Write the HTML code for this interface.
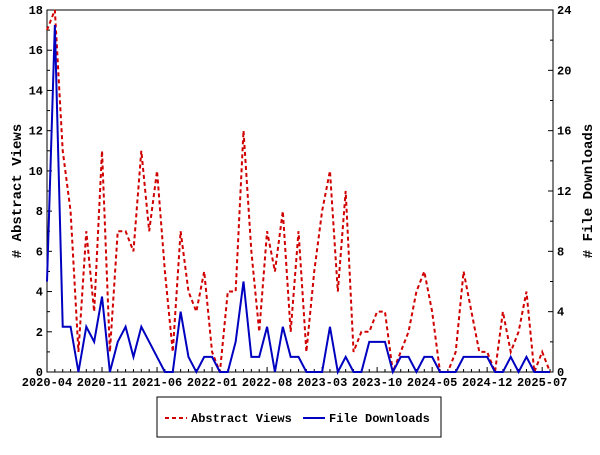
<!DOCTYPE html>
<html><head><meta charset="utf-8"><style>
body{margin:0;background:#fff}
svg text{font-family:"Liberation Mono",monospace;font-size:12px;font-weight:bold;fill:#000}
</style></head><body>
<svg id="chart" width="600" height="450" xmlns="http://www.w3.org/2000/svg">
<rect x="0" y="0" width="600" height="450" fill="#fff"/>
<g id="axes"></g>
<g id="series"></g>
<g>
<rect x="157" y="397" width="284" height="40" fill="#fff" stroke="#000" stroke-width="1"/>
<line x1="165" y1="418" x2="187" y2="418" stroke="#d00000" stroke-width="2" stroke-dasharray="4,3"/>
<text x="191" y="422">Abstract Views</text>
<line x1="303" y1="418" x2="325" y2="418" stroke="#0000c0" stroke-width="2"/>
<text x="329" y="422">File Downloads</text>
</g>
</svg>
<script>
const tickLabels=["2020-04","2020-11","2021-06","2022-01","2022-08","2023-03","2023-10","2024-05","2024-12","2025-07"];
const views=[17,18,11,8,1,7,3,11,1,7,7,6,11,7,10,5,1,7,4,3,5,1,0,4,4,12,6,2,7,5,8,2,7,1,5,8,10,4,9,1,2,2,3,3,0,1,2,4,5,3,0,0,1,5,3,1,1,0,3,1,2,4,0,1,0];
const downloads=[6,23,3,3,0,3,2,5,0,2,3,1,3,2,1,0,0,4,1,0,1,1,0,0,2,6,1,1,3,0,3,1,1,0,0,0,3,0,1,0,0,2,2,2,0,1,1,0,1,1,0,0,0,1,1,1,1,0,0,1,0,1,0,0,0];
const L=47,R=553,T=10,B=372,step=7.86;
const xs=i=>L+i*step;
const yl=v=>B-v*(B-T)/18;
const yr=v=>B-v*(B-T)/24;
const NS="http://www.w3.org/2000/svg";
function mk(tag,attrs,parent){const e=document.createElementNS(NS,tag);for(const k in attrs)e.setAttribute(k,attrs[k]);parent.appendChild(e);return e;}
const ax=document.getElementById('axes');
const frame=mk('rect',{x:L,y:T,width:R-L,height:B-T,fill:'none',stroke:'#000','stroke-width':1},ax);


for(let v=0;v<=18;v+=1){const y=yl(v);const len=v%2==0?5:3;
 mk('line',{x1:L,y1:y,x2:L+len,y2:y,stroke:'#000'},ax);
 if(v%2==0){const t=mk('text',{x:L-4,y:y+4,'text-anchor':'end'},ax);t.textContent=v;
 
 }}
for(let v=0;v<=24;v+=2){const y=yr(v);const len=v%4==0?5:3;
 mk('line',{x1:R,y1:y,x2:R-len,y2:y,stroke:'#000'},ax);
 if(v%4==0){const t=mk('text',{x:R+4,y:y+4,'text-anchor':'start'},ax);t.textContent=v;
 
 }}
for(let i=0;i<views.length;i++){const x=xs(i);const major=i%7==0;
 mk('line',{x1:x,y1:B,x2:x,y2:B-(major?5:3),stroke:'#000'},ax);
 if(major&&tickLabels[i/7]){const t=mk('text',{x:x,y:B+14,'text-anchor':'middle'},ax);t.textContent=tickLabels[i/7];
 
 }}
const lt=mk('text',{x:0,y:0,transform:'translate(21,191) rotate(-90)','text-anchor':'middle',style:'font-size:14px'},ax);lt.textContent='# Abstract Views';


const rt=mk('text',{x:0,y:0,transform:'translate(592,191) rotate(-90)','text-anchor':'middle',style:'font-size:14px'},ax);rt.textContent='# File Downloads';


const sg=document.getElementById('series');
const pv=mk('polyline',{points:views.map((v,i)=>xs(i)+','+yl(v)).join(' '),fill:'none',stroke:'#d00000','stroke-width':2,'stroke-dasharray':'4,3'},sg);


const pd=mk('polyline',{points:downloads.map((v,i)=>xs(i)+','+yr(v)).join(' '),fill:'none',stroke:'#0000c0','stroke-width':2},sg);


</script>
</body></html>
